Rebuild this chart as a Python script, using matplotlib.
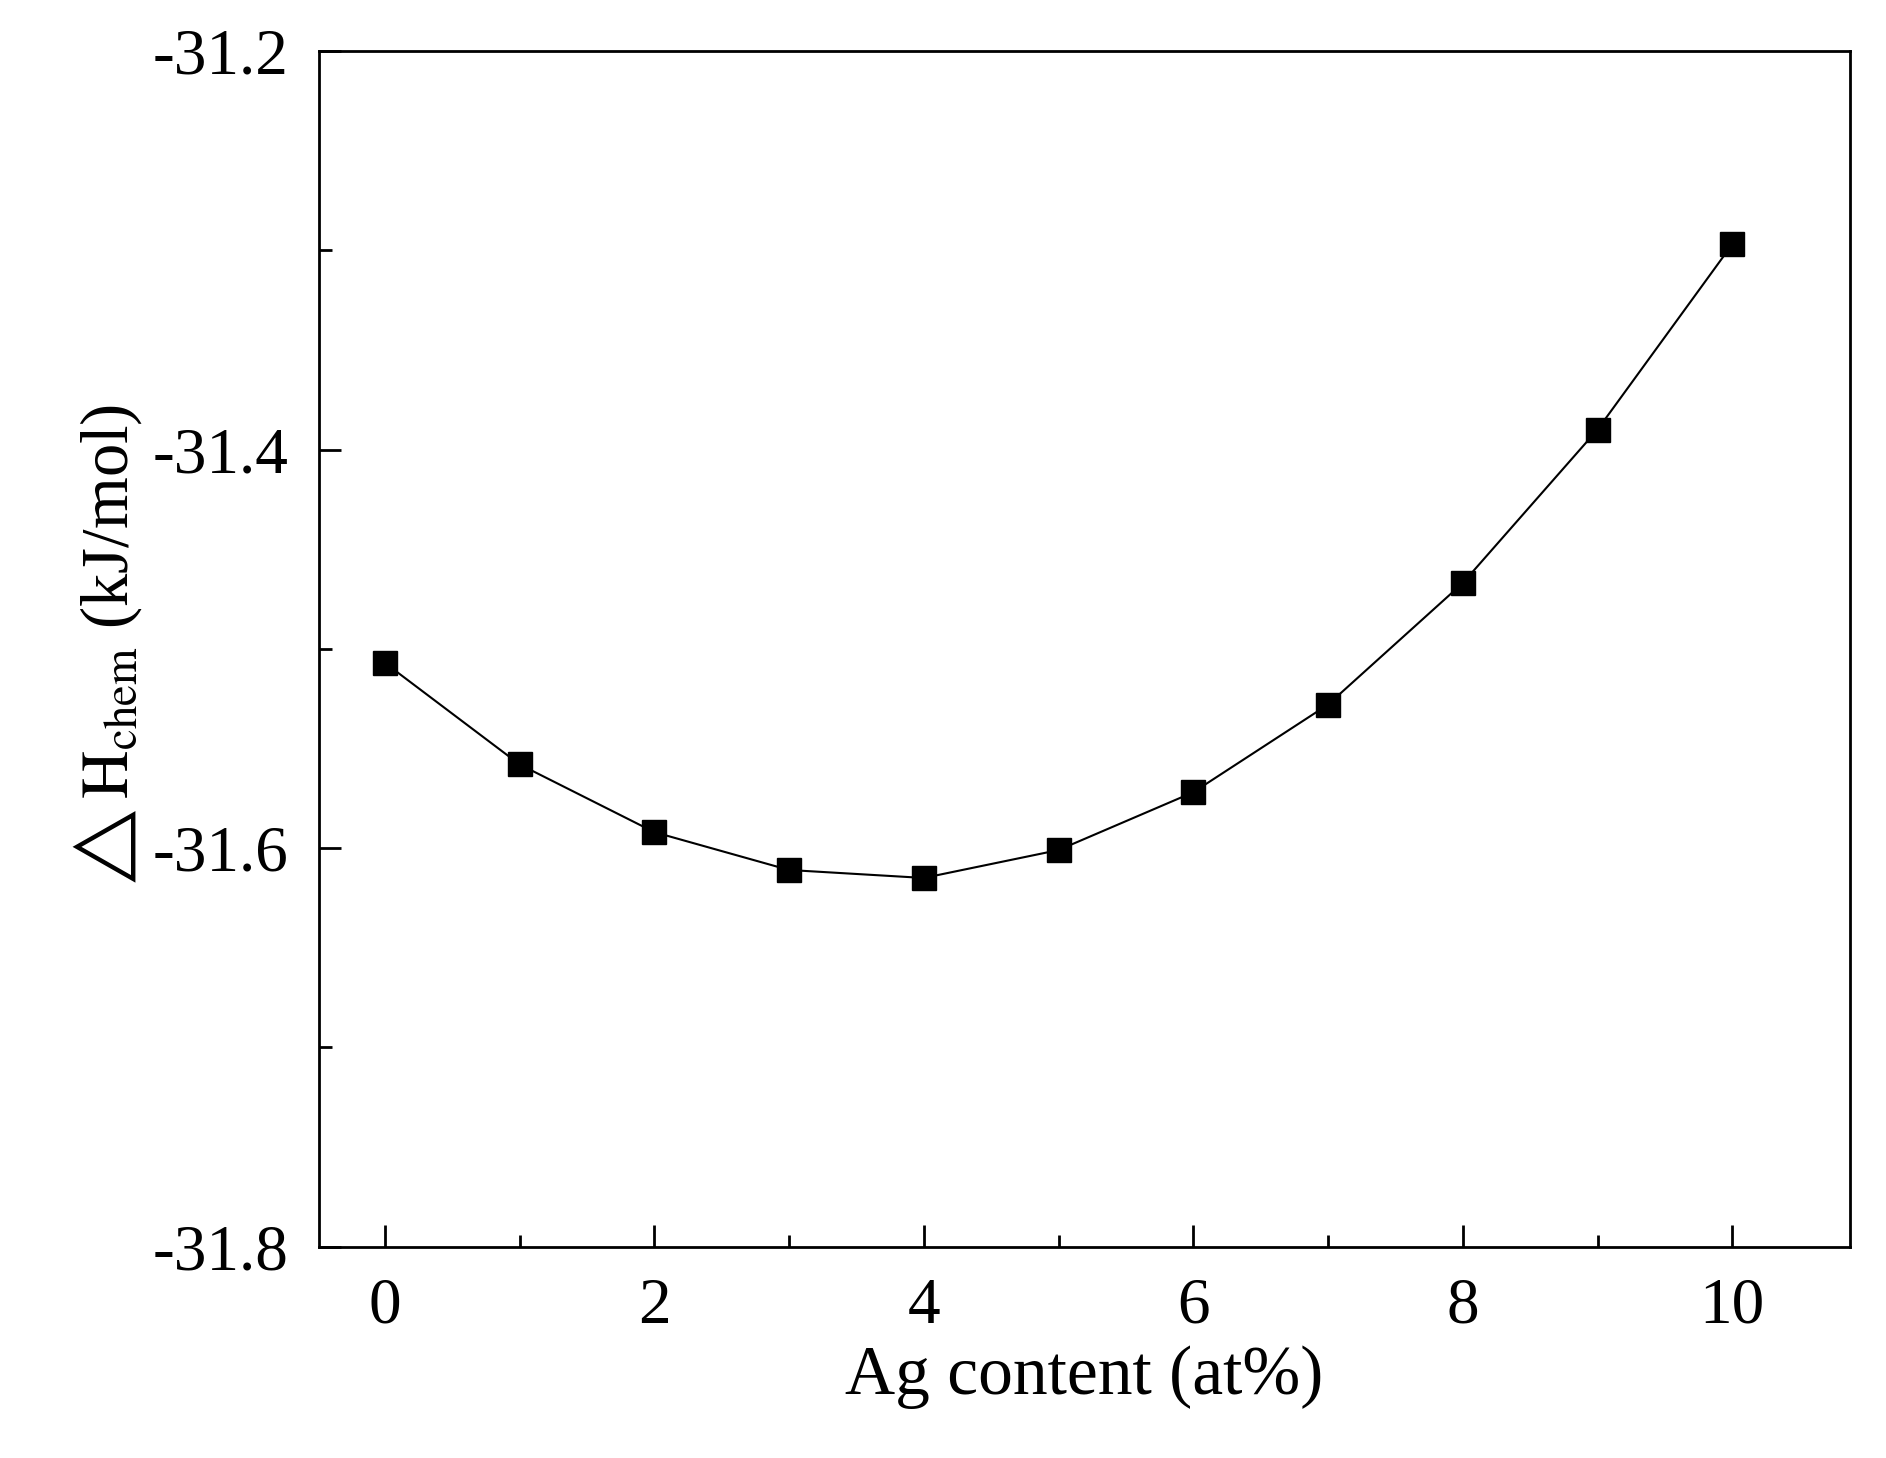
import matplotlib
matplotlib.use("Agg")
import matplotlib.pyplot as plt
from matplotlib.ticker import MultipleLocator

plt.rcParams['font.family'] = ['Liberation Serif', 'DejaVu Serif']
plt.rcParams['mathtext.fontset'] = 'stix'

ag_content = [0, 1, 2, 3, 4, 5, 6, 7, 8, 9, 10]
dh_chem = [-31.507, -31.558, -31.592, -31.611, -31.615, -31.601,
           -31.572, -31.528, -31.467, -31.390, -31.297]

fig = plt.figure(figsize=(18.86, 14.58), dpi=100)
ax = fig.add_axes([0.169, 0.145, 0.812, 0.82])
ax.plot(ag_content, dh_chem, '-', color='black', linewidth=1.5,
        marker='s', markersize=17)

ax.set_xlim(-0.49, 10.875)
ax.set_ylim(-31.8, -31.2)
ax.xaxis.set_major_locator(MultipleLocator(2))
ax.xaxis.set_minor_locator(MultipleLocator(1))
ax.yaxis.set_major_locator(MultipleLocator(0.2))
ax.yaxis.set_minor_locator(MultipleLocator(0.1))
ax.yaxis.set_major_formatter(matplotlib.ticker.FormatStrFormatter('%.1f'))
ax.tick_params(which='both', direction='in', top=False, right=False,
               labelsize=47, width=2, pad=22)
ax.tick_params(which='major', length=16)
ax.tick_params(which='minor', length=9)
for s in ax.spines.values():
    s.set_linewidth(2)

ax.set_xlabel('Ag content (at%)', fontsize=50, labelpad=6)
ax.set_ylabel(r'$\triangle\mathrm{H}_{\mathrm{chem}}$ (kJ/mol)', fontsize=48, labelpad=6)

fig.savefig('out.png', dpi=100)
